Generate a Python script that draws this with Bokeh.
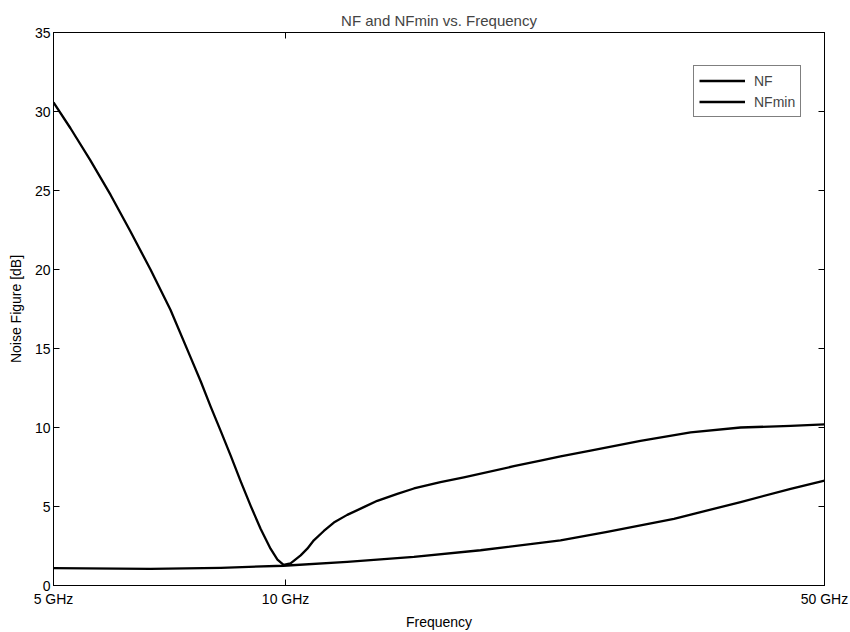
from bokeh.plotting import figure
from bokeh.models import (LogAxis, LinearAxis, FixedTicker, Legend, LegendItem, Title)
from bokeh.embed import file_html
from bokeh.resources import INLINE

# ---- data ----
nf_freq = [5.0, 5.26, 5.58, 5.93, 6.29, 6.68, 7.09, 7.53, 7.76, 7.99, 8.24, 8.49, 8.74,
           9.01, 9.28, 9.56, 9.76, 9.94, 10.15, 10.46, 10.67, 10.88, 11.21, 11.55, 12.02,
           12.63, 13.15, 13.96, 14.67, 15.88, 17.03, 19.77, 21.41, 22.73, 24.86, 28.86,
           33.52, 38.92, 45.19, 50.0]
nf_val = [30.58, 28.94, 26.92, 24.72, 22.42, 20.0, 17.45, 14.44, 12.93, 11.35, 9.77,
          8.20, 6.62, 5.04, 3.59, 2.33, 1.64, 1.30, 1.40, 1.91, 2.33, 2.86, 3.45, 3.98,
          4.47, 4.96, 5.36, 5.80, 6.14, 6.54, 6.85, 7.55, 7.90, 8.18, 8.53, 9.16, 9.69,
          10.0, 10.1, 10.2]

nfmin_freq = [5.0, 6.68, 8.24, 9.94, 12.02, 14.67, 17.9, 22.73, 26.13, 31.89, 38.92,
              45.19, 50.0]
nfmin_val = [1.1, 1.05, 1.12, 1.25, 1.49, 1.81, 2.23, 2.85, 3.39, 4.22, 5.28, 6.12, 6.64]

x_ticks = [5, 10, 50]
x_tick_labels = ["5 GHz", "10 GHz", "50 GHz"]
y_ticks = [0, 5, 10, 15, 20, 25, 30, 35]

FONT = "Liberation Sans"
FS = "14px"

p = figure(width=850, height=632, x_axis_type="log", x_range=(5, 50), y_range=(0, 35),
           output_backend="svg", toolbar_location=None,
           min_border_left=53, min_border_right=26, min_border_top=32, min_border_bottom=45)
p.title = Title(text="NF and NFmin vs. Frequency", align="center", text_font=FONT,
                text_font_size="15px", text_font_style="normal", standoff=7)
p.xgrid.visible = False
p.ygrid.visible = False
p.outline_line_color = "black"
p.outline_line_width = 1
p.background_fill_color = "white"
p.border_fill_color = "white"

def style_axis(ax):
    ax.axis_line_color = "black"
    ax.major_tick_line_color = "black"
    ax.major_tick_in = 6
    ax.major_tick_out = 0
    ax.minor_tick_line_color = None
    ax.major_label_text_font = FONT
    ax.major_label_text_font_size = FS
    ax.major_label_text_color = "black"
    ax.axis_label_text_font = FONT
    ax.axis_label_text_font_size = FS
    ax.axis_label_text_font_style = "normal"
    ax.axis_label_text_color = "black"

xa = p.xaxis[0]
style_axis(xa)
xa.ticker = FixedTicker(ticks=x_ticks, minor_ticks=[])
xa.major_label_overrides = {t: l for t, l in zip(x_ticks, x_tick_labels)}
xa.axis_label = "Frequency"
xa.major_label_standoff = 5
xa.axis_label_standoff = 4

ya = p.yaxis[0]
style_axis(ya)
ya.ticker = FixedTicker(ticks=y_ticks, minor_ticks=[])
ya.axis_label = "Noise Figure [dB]"
ya.major_label_standoff = 3
ya.axis_label_standoff = 8

top = LogAxis(ticker=FixedTicker(ticks=x_ticks, minor_ticks=[]))
style_axis(top)
top.major_label_overrides = {t: "" for t in x_ticks}
top.major_label_standoff = 0
top.major_label_text_font_size = "0px"
p.add_layout(top, "above")

right = LinearAxis(ticker=FixedTicker(ticks=y_ticks, minor_ticks=[]))
style_axis(right)
right.major_label_overrides = {t: "" for t in y_ticks}
right.major_label_standoff = 0
right.major_label_text_font_size = "0px"
p.add_layout(right, "right")

r1 = p.line(nf_freq, nf_val, line_color="black", line_width=2.3, line_join="round")
r2 = p.line(nfmin_freq, nfmin_val, line_color="black", line_width=2.3, line_join="round")

legend = Legend(items=[LegendItem(label="NF", renderers=[r1]),
                       LegendItem(label="NFmin", renderers=[r2])],
                location=(640, 468), padding=5, margin=0, spacing=2,
                glyph_width=46, glyph_height=19, label_height=19, label_standoff=9,
                label_text_font=FONT, label_text_font_size=FS,
                border_line_color="black", border_line_width=1,
                background_fill_color="white", background_fill_alpha=1)
p.add_layout(legend, "center")

open("out.html", "w").write(file_html(p, INLINE))
